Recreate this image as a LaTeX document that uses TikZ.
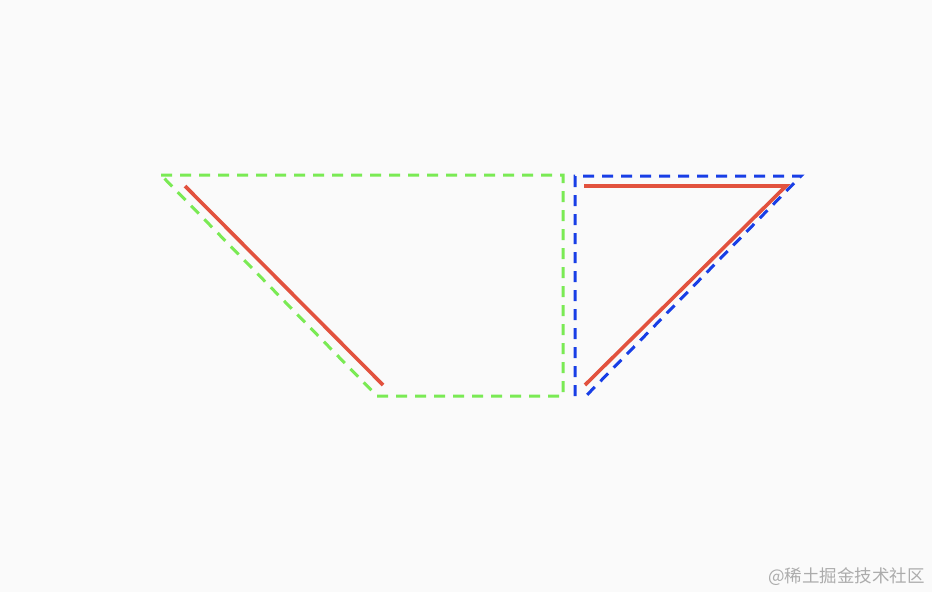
\documentclass[tikz,border=0pt]{standalone}
\usepackage{fontspec}
\usepackage{xcolor}
\usepackage{tikz}
\newfontfamily\cjk{Noto Sans CJK SC}
\definecolor{bggray}{RGB}{250,250,250}
\definecolor{lightgreen}{RGB}{122,234,84}
\definecolor{deepblue}{RGB}{24,62,230}
\definecolor{tomato}{RGB}{226,82,62}

\begin{document}
\begin{tikzpicture}[x=1pt,y=-1pt,
    guide/.style={line width=3pt, dash pattern=on 11pt off 8pt},
    edge/.style={line width=3.6pt, color=tomato}]
    \fill[bggray] (0,0) rectangle (932,592);
    \useasboundingbox (0,0) rectangle (932,592);

    \draw[guide,color=lightgreen] (161,175) -- (563,175) -- (563,396) -- (377,396) -- cycle;
    \draw[guide,color=deepblue] (575,396) -- (575,176) -- (801,176) -- (585,397);

    \draw[edge] (185,186) -- (383,385);
    \draw[edge] (584,186) -- (786,186) -- (585,385);

    \node[anchor=east,inner sep=0pt,text=gray!65,font=\cjk\fontsize{17.5pt}{17.5pt}\selectfont] (mark) at (925,577) {@稀土掘金技术社区};
\end{tikzpicture}
\end{document}
